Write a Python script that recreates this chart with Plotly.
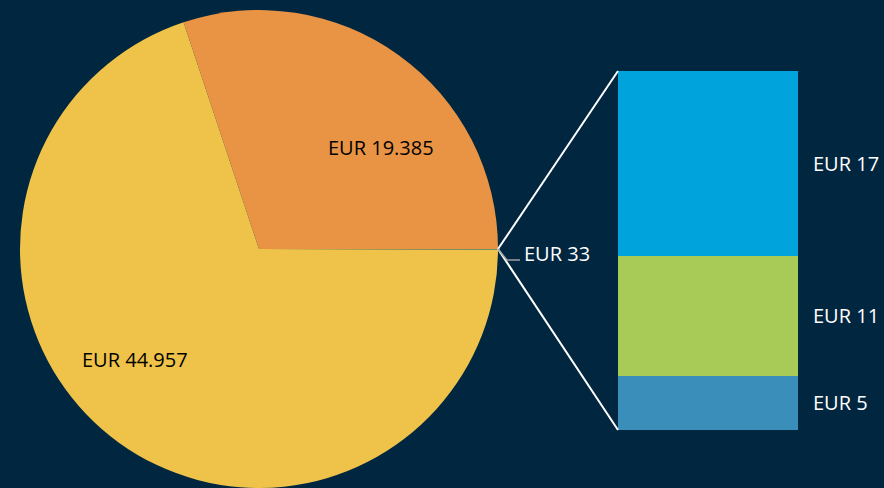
import plotly.graph_objects as go

# ---- data ----
pie_labels = ["Orange", "Other", "Yellow"]
pie_values = [19385, 33, 44957]
pie_text = ["EUR 19.385", "EUR 33", "EUR 44.957"]
pie_colors = ["#E99444", "#4E9A86", "#EFC34A"]

bar_labels = ["EUR 5", "EUR 11", "EUR 17"]
bar_values = [5, 11, 17]
bar_colors = ["#3A8EBA", "#A8CB57", "#00A3DC"]

W, H = 884, 488
BG = "#01263F"
FONT = "Open Sans"
FS = 20

pie_dom_x = [20 / W, 498 / W]
pie_dom_y = [0.0, 478 / H]
bar_dom_x = [618 / W, 798 / W]
bar_dom_y = [(H - 430) / H, (H - 71) / H]

# first slice (orange) ends at 3 o'clock, going clockwise
rot = 90 - 360 * pie_values[0] / sum(pie_values)

fig = go.Figure()

fig.add_trace(go.Pie(
    labels=pie_labels, values=pie_values,
    marker=dict(colors=pie_colors, line=dict(width=0)),
    sort=False, direction="clockwise", rotation=rot,
    textinfo="none", hoverinfo="skip", showlegend=False,
    domain=dict(x=pie_dom_x, y=pie_dom_y),
))

for lab, val, col in zip(bar_labels, bar_values, bar_colors):
    fig.add_trace(go.Bar(
        x=[0], y=[val], marker=dict(color=col, line=dict(width=0)),
        width=1, showlegend=False, hoverinfo="skip",
        xaxis="x", yaxis="y",
    ))

cx = (pie_dom_x[0] + pie_dom_x[1]) / 2
cy = (pie_dom_y[0] + pie_dom_y[1]) / 2
r_px = min((pie_dom_x[1] - pie_dom_x[0]) * W, (pie_dom_y[1] - pie_dom_y[0]) * H) / 2
edge_x = cx + r_px / W
edge_y = cy

shapes = [
    dict(type="line", xref="paper", yref="paper", x0=edge_x, y0=edge_y,
         x1=bar_dom_x[0], y1=bar_dom_y[1], line=dict(color="white", width=2)),
    dict(type="line", xref="paper", yref="paper", x0=edge_x, y0=edge_y,
         x1=bar_dom_x[0], y1=bar_dom_y[0], line=dict(color="white", width=2)),
    # leader for the tiny slice label
    dict(type="path", xref="paper", yref="paper",
         path=f"M {edge_x} {edge_y} L {edge_x + 9 / W} {edge_y - 11 / H} L {edge_x + 22 / W} {edge_y - 11 / H}",
         line=dict(color="#A0A0A0", width=1.5)),
]

annotations = [
    dict(text=pie_text[0], x=381 / W, y=(H - 147) / H, xref="paper", yref="paper",
         xanchor="center", yanchor="middle",
         showarrow=False, font=dict(family=FONT, size=FS, color="black")),
    dict(text=pie_text[2], x=135 / W, y=(H - 359) / H, xref="paper", yref="paper",
         xanchor="center", yanchor="middle",
         showarrow=False, font=dict(family=FONT, size=FS, color="black")),
    dict(text=pie_text[1], x=edge_x + 24 / W, y=(H - 254) / H, xref="paper", yref="paper",
         xanchor="left", yanchor="middle",
         showarrow=False, font=dict(family=FONT, size=FS, color="white")),
]
cum = 0
for lab, val in zip(bar_labels, bar_values):
    annotations.append(dict(
        text=lab, x=bar_dom_x[1] + 13 / W, y=cum + val / 2, xref="paper", yref="y",
        xanchor="left", yanchor="middle", showarrow=False,
        font=dict(family=FONT, size=FS, color="white")))
    cum += val

fig.update_layout(
    width=W, height=H, margin=dict(l=0, r=0, t=0, b=0),
    paper_bgcolor=BG, plot_bgcolor=BG, barmode="stack", bargap=0,
    xaxis=dict(domain=bar_dom_x, range=[-0.5, 0.5], visible=False, fixedrange=True),
    yaxis=dict(domain=bar_dom_y, range=[0, sum(bar_values)], visible=False, fixedrange=True),
    shapes=shapes, annotations=annotations,
    font=dict(family=FONT),
)

fig.write_html("out.html", config={"displayModeBar": False},
               post_script="document.body.style.margin='0';document.body.style.background='%s';" % BG)
